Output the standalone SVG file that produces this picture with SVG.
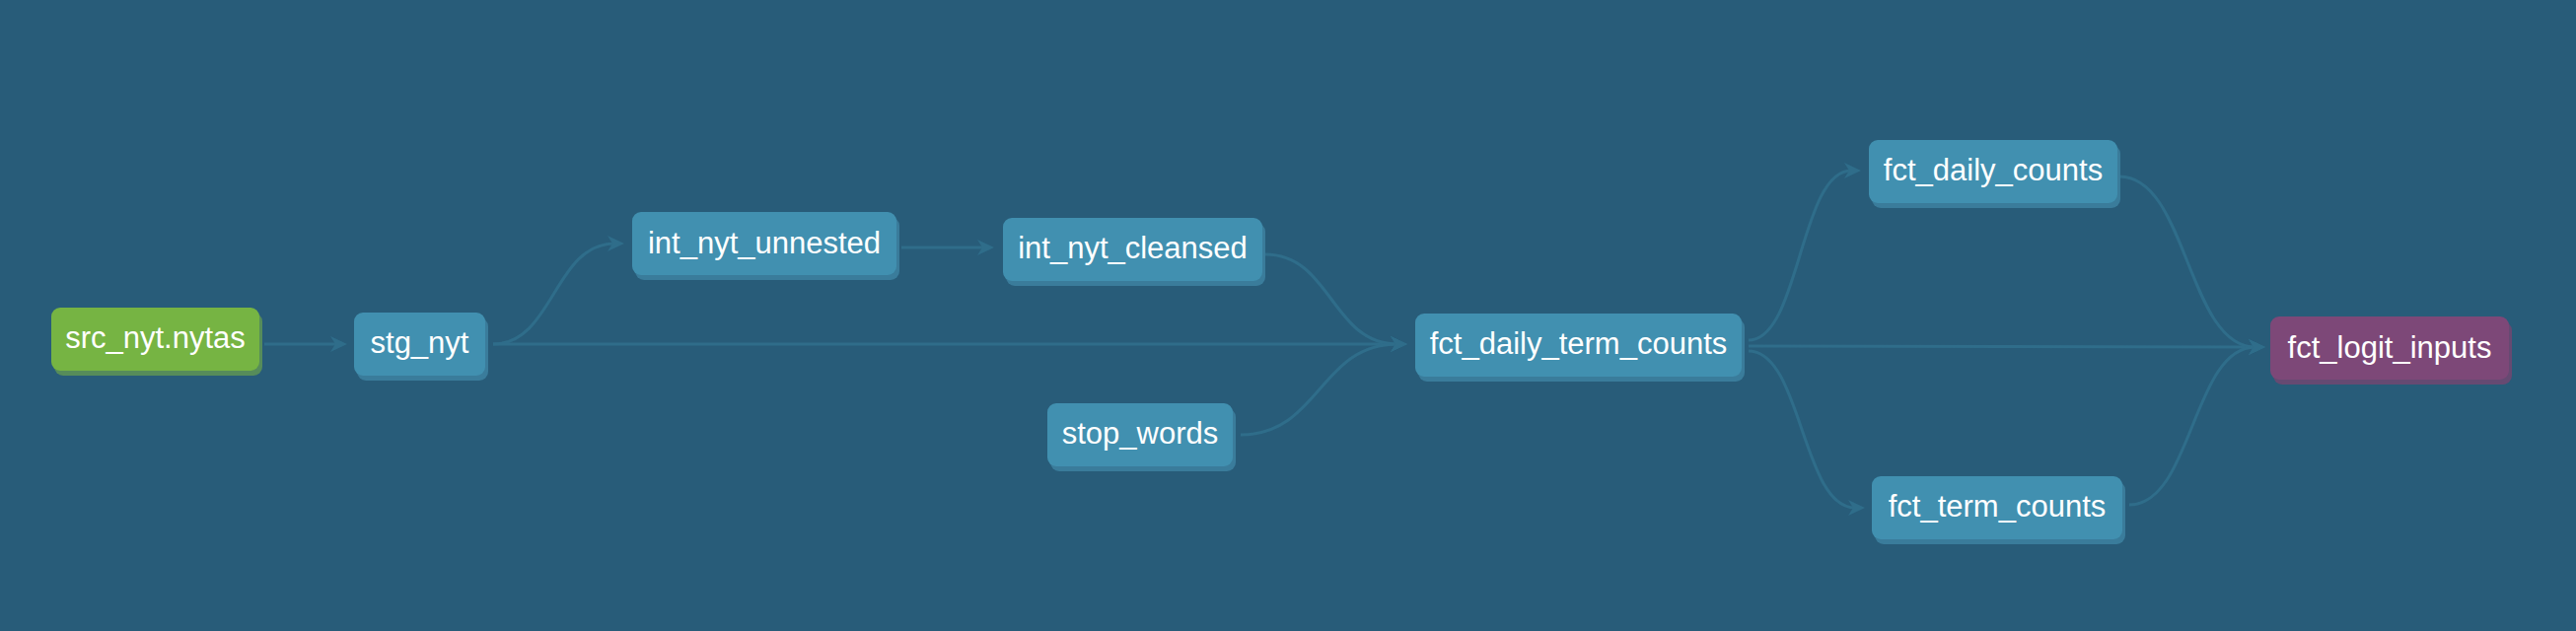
<svg xmlns="http://www.w3.org/2000/svg" width="2612" height="640" viewBox="0 0 2612 640">
  <style>
    .edge { fill: none; stroke: #2f6d8a; stroke-width: 3; marker-end: url(#arrow); }
    .shadow-blue { fill: #3a7c9b; }
    .box-blue { fill: #4190b0; }
    .shadow-green { fill: #568c5a; }
    .box-green { fill: #76b443; }
    .shadow-purple { fill: #664a72; }
    .box-purple { fill: #7d4878; }
    .label { font-family: "Liberation Sans", Arial, sans-serif; font-size: 31px; fill: #ffffff; text-anchor: middle; }
  </style>
  <defs>
    <marker id="arrow" markerUnits="userSpaceOnUse" markerWidth="17" markerHeight="16" refX="7" refY="8" orient="auto" viewBox="0 0 17 16">
      <path d="M0,0 L17,8 L0,16 L5,8 Z" fill="#2f6d8a"/>
    </marker>
  </defs>
  <rect x="0" y="0" width="2612" height="640" fill="#285c79"/>

  <g id="connectors">
    <path class="edge" d="M268,349 L342,349"/>
    <path class="edge" d="M500,349 C561,349 562,247 623,247"/>
    <path class="edge" d="M500,349 L1417,349"/>
    <path class="edge" d="M914,251 L998,251"/>
    <path class="edge" d="M1283,258 C1350,258 1350,349 1417,349"/>
    <path class="edge" d="M1258,441 C1338,441 1338,349 1417,349"/>
    <path class="edge" d="M1773,345 C1825,345 1825,173 1877,173"/>
    <path class="edge" d="M1773,351 L2287,352"/>
    <path class="edge" d="M1773,356 C1827,356 1827,515 1881,515"/>
    <path class="edge" d="M2149,179 C2218,179 2218,352 2287,352"/>
    <path class="edge" d="M2159,512 C2223,512 2223,352 2287,352"/>
  </g>

  <g id="src_nyt.nytas">
    <rect class="shadow-green" x="55" y="317" width="211" height="64" rx="9"/>
    <rect class="box-green" x="52" y="312" width="211" height="64" rx="9"/>
    <text class="label" x="157.5" y="353">src_nyt.nytas</text>
  </g>
  <g id="stg_nyt">
    <rect class="shadow-blue" x="362" y="322" width="133" height="64" rx="9"/>
    <rect class="box-blue" x="359" y="317" width="133" height="64" rx="9"/>
    <text class="label" x="425.5" y="358">stg_nyt</text>
  </g>
  <g id="int_nyt_unnested">
    <rect class="shadow-blue" x="644" y="220" width="268" height="64" rx="9"/>
    <rect class="box-blue" x="641" y="215" width="268" height="64" rx="9"/>
    <text class="label" x="775" y="257">int_nyt_unnested</text>
  </g>
  <g id="int_nyt_cleansed">
    <rect class="shadow-blue" x="1020" y="226" width="263" height="64" rx="9"/>
    <rect class="box-blue" x="1017" y="221" width="263" height="64" rx="9"/>
    <text class="label" x="1148.5" y="262">int_nyt_cleansed</text>
  </g>
  <g id="stop_words">
    <rect class="shadow-blue" x="1065" y="414" width="188" height="64" rx="9"/>
    <rect class="box-blue" x="1062" y="409" width="188" height="64" rx="9"/>
    <text class="label" x="1156" y="450">stop_words</text>
  </g>
  <g id="fct_daily_term_counts">
    <rect class="shadow-blue" x="1438" y="323" width="331" height="64" rx="9"/>
    <rect class="box-blue" x="1435" y="318" width="331" height="64" rx="9"/>
    <text class="label" x="1600.5" y="359">fct_daily_term_counts</text>
  </g>
  <g id="fct_daily_counts">
    <rect class="shadow-blue" x="1898" y="147" width="252" height="64" rx="9"/>
    <rect class="box-blue" x="1895" y="142" width="252" height="64" rx="9"/>
    <text class="label" x="2021" y="183">fct_daily_counts</text>
  </g>
  <g id="fct_term_counts">
    <rect class="shadow-blue" x="1901" y="488" width="254" height="64" rx="9"/>
    <rect class="box-blue" x="1898" y="483" width="254" height="64" rx="9"/>
    <text class="label" x="2025" y="524">fct_term_counts</text>
  </g>
  <g id="fct_logit_inputs">
    <rect class="shadow-purple" x="2305" y="326" width="242" height="64" rx="9"/>
    <rect class="box-purple" x="2302" y="321" width="242" height="64" rx="9"/>
    <text class="label" x="2423" y="363">fct_logit_inputs</text>
  </g>
</svg>
